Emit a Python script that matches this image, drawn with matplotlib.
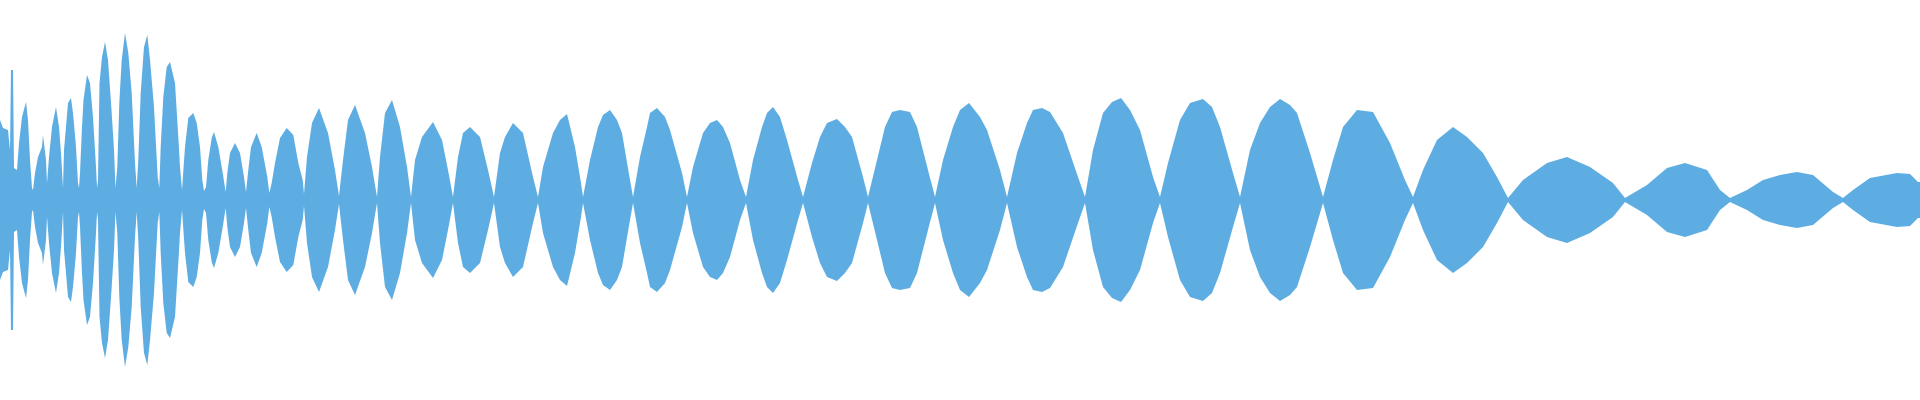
# waveform envelope (half-height of the signal)
import matplotlib
matplotlib.use('Agg')
import matplotlib.pyplot as plt
import numpy as np

# positions along the track and the envelope amplitude at each point,
# one line per lobe (node, rise, peak, fall)
env_x = [
    0, 3, 8, 10, 11, 13, 14, 17, 19, 22, 26, 28, 30, 32,
    33, 35, 38, 42, 43, 46, 47,
    49, 52, 56, 59, 61, 63,
    64, 66, 68, 71, 73, 76, 78, 79,
    80, 82, 83.5, 87, 90, 93, 96, 97,
    98, 99.5, 102, 105, 108, 111.5, 114, 115.5,
    117.3, 119.3, 121.7, 125, 128.3, 131.7, 135, 136.7,
    138.3, 140.7, 144, 147.3, 150, 154, 157.7, 159.3,
    160.7, 163.3, 166.7, 170, 175, 178.3, 180, 182,
    185, 188.3, 193.3, 196.7, 200, 202.3, 204,
    206, 208.3, 211.7, 214, 218.3, 222.7, 225.7,
    227.3, 230, 235, 240, 244, 246,
    248.3, 251, 256.7, 261.7, 267.3, 269.3,
    271.7, 275, 280, 286.7, 293.3, 298.3, 302.7, 304,
    307, 312, 319, 328, 335, 339,
    343, 348, 355, 365, 372, 377,
    380, 385, 392, 400, 407, 411,
    415, 422, 433, 442, 448, 453,
    458, 463, 470, 480, 488, 494,
    500, 505, 513, 523, 533, 538,
    543, 553, 560, 567, 575, 581, 583,
    590, 598, 603, 610, 617, 622, 630, 633,
    640, 647, 650, 657, 665, 670, 682, 687,
    693, 703, 710, 717, 723, 730, 740, 746,
    753, 762, 767, 773, 780, 787, 798, 803,
    812, 820, 827, 837, 845, 852, 863, 868,
    877, 885, 892, 900, 910, 917, 928, 935,
    943, 953, 960, 969, 980, 987, 1000, 1007,
    1017, 1027, 1033, 1042, 1050, 1063, 1078, 1085,
    1093, 1103, 1112, 1121, 1130, 1140, 1153, 1160,
    1168, 1180, 1190, 1203, 1212, 1220, 1233, 1240,
    1250, 1260, 1270, 1280, 1290, 1297, 1310, 1323,
    1333, 1343, 1357, 1373, 1390, 1405, 1413,
    1423, 1437, 1453, 1467, 1483, 1497, 1508,
    1523, 1547, 1567, 1590, 1613, 1625,
    1647, 1667, 1685, 1707, 1720, 1730,
    1747, 1763, 1780, 1797, 1813, 1833, 1843,
    1853, 1870, 1897, 1910, 1918, 1920,
]
env_amp = [
    80, 72, 70, 50, 130, 130, 32, 30, 57, 83, 98, 80, 40, 12,
    10, 27, 43, 53, 65, 40, 17,
    43, 73, 93, 73, 47, 12,
    50, 73, 97, 102, 87, 53, 17, 12,
    27, 73, 100, 125, 117, 83, 33, 12,
    20, 117, 143, 158, 140, 90, 50, 12,
    33, 97, 140, 167, 147, 107, 37, 12,
    40, 107, 153, 165, 140, 93, 23, 12,
    53, 103, 133, 138, 117, 63, 33, 10,
    53, 82, 87, 77, 53, 20, 9,
    13, 40, 62, 68, 53, 27, 8,
    27, 47, 57, 47, 23, 8,
    30, 53, 67, 53, 23, 7,
    17, 37, 62, 72, 65, 37, 20, 6,
    43, 77, 92, 67, 30, 4,
    40, 80, 95, 67, 33, 3,
    43, 87, 100, 73, 33, 3,
    40, 63, 78, 60, 30, 3,
    43, 67, 73, 63, 30, 3,
    47, 63, 77, 67, 23, 3,
    33, 67, 80, 86, 53, 17, 3,
    40, 73, 85, 90, 80, 67, 20, 3,
    43, 73, 87, 92, 83, 70, 27, 3,
    33, 67, 77, 80, 73, 57, 20, 3,
    40, 73, 87, 93, 83, 60, 20, 3,
    37, 63, 77, 81, 73, 63, 23, 3,
    40, 73, 88, 90, 88, 73, 30, 3,
    40, 73, 90, 97, 83, 70, 30, 3,
    47, 77, 90, 92, 88, 67, 23, 3,
    50, 87, 98, 102, 90, 70, 23, 3,
    37, 80, 97, 101, 93, 73, 27, 3,
    50, 77, 93, 101, 95, 87, 47, 3,
    40, 73, 90, 88, 57, 20, 3,
    30, 60, 73, 63, 47, 23, 2,
    20, 37, 43, 33, 17, 2,
    15, 32, 37, 30, 10, 2,
    10, 20, 25, 28, 25, 8, 2,
    10, 22, 27, 26, 18, 18,
]

x = np.array(env_x)
amp = np.array(env_amp)

fig = plt.figure(figsize=(19.2, 4.0), dpi=100)
ax = fig.add_axes([0, 0, 1, 1])
ax.fill_between(x, -amp, amp, color='#5DADE2', linewidth=0)
ax.set_xlim(0, 1920)
ax.set_ylim(-200, 200)
ax.axis('off')
fig.savefig('out.png', dpi=100, facecolor='white')
